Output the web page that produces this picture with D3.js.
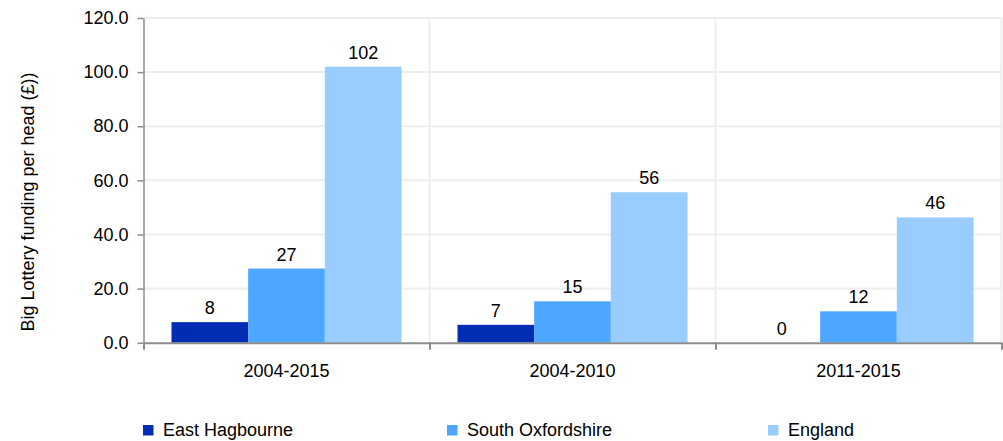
<!DOCTYPE html>
<html>
<head>
<meta charset="utf-8" />
<script src="https://d3js.org/d3.v7.min.js"></script>
<style>
  body { margin: 0; background: #fff; }
  text { font-family: "Liberation Sans", Arial, sans-serif; fill: #000; }
</style>
</head>
<body>
<div id="chart"></div>
<script>
// data
var categories = ["2004-2015", "2004-2010", "2011-2015"];
var seriesNames = ["East Hagbourne", "South Oxfordshire", "England"];
var eastHagbourne = [7.6, 6.6, 0];
var southOxfordshire = [27.4, 15.3, 11.6];
var england = [102.0, 55.6, 46.3];
var yTicks = [0, 20, 40, 60, 80, 100, 120];
var colors = ["#002db4", "#4da6ff", "#99ccff"];

var series = [eastHagbourne, southOxfordshire, england];

var width = 1003, height = 441;
var margin = {top: 18, right: 1.5, bottom: 98, left: 143.5};

var svg = d3.select("#chart").append("svg")
    .attr("width", width)
    .attr("height", height);

var y = d3.scaleLinear()
    .domain([0, 120])
    .range([height - margin.bottom - 0.3, margin.top]);

var x0 = d3.scaleBand()
    .domain(categories)
    .range([margin.left, width - margin.right])
    .padding(0);

var x1 = d3.scaleBand()
    .domain(seriesNames)
    .range([0, x0.bandwidth()])
    .paddingInner(0)
    .paddingOuter(0.365);

var xEdge = d3.scaleLinear()
    .domain([0, categories.length])
    .range([margin.left, width - margin.right]);

// horizontal grid
svg.append("g")
  .selectAll("line")
  .data(yTicks.filter(function(d) { return d > 0; }))
  .enter().append("line")
    .attr("x1", margin.left)
    .attr("x2", width - margin.right)
    .attr("y1", function(d) { return y(d); })
    .attr("y2", function(d) { return y(d); })
    .attr("stroke", "#eeeeee")
    .attr("stroke-width", 2);

// vertical grid at category edges
svg.append("g")
  .selectAll("line")
  .data(d3.range(1, categories.length + 1))
  .enter().append("line")
    .attr("x1", function(d) { return xEdge(d); })
    .attr("x2", function(d) { return xEdge(d); })
    .attr("y1", y(120))
    .attr("y2", y(0))
    .attr("stroke", "#eeeeee")
    .attr("stroke-width", 2);

// bars
var groups = svg.append("g")
  .selectAll("g")
  .data(categories)
  .enter().append("g")
    .attr("transform", function(d) { return "translate(" + x0(d) + ",0)"; });

groups.selectAll("rect")
  .data(function(c, i) {
    return seriesNames.map(function(s, k) { return {name: s, value: series[k][i], k: k}; });
  })
  .enter().append("rect")
    .attr("x", function(d) { return x1(d.name); })
    .attr("width", x1.bandwidth())
    .attr("y", function(d) { return y(d.value); })
    .attr("height", function(d) { return y(0) - y(d.value); })
    .attr("fill", function(d) { return colors[d.k]; });

groups.selectAll("text")
  .data(function(c, i) {
    return seriesNames.map(function(s, k) { return {name: s, value: series[k][i]}; });
  })
  .enter().append("text")
    .attr("x", function(d) { return x1(d.name) + x1.bandwidth() / 2; })
    .attr("y", function(d) { return y(d.value) - 8; })
    .attr("text-anchor", "middle")
    .style("font-size", "18px")
    .text(function(d) { return d3.format(".0f")(d.value); });

// y axis
var yAxis = svg.append("g")
    .attr("transform", "translate(" + margin.left + ",0)")
    .call(d3.axisLeft(y).tickValues(yTicks).tickFormat(d3.format(".1f")).tickSizeInner(6).tickSizeOuter(0).tickPadding(9));
yAxis.select(".domain").attr("stroke", "#8c8c8c").attr("stroke-width", 1.5);
yAxis.selectAll(".tick line").attr("stroke", "#8c8c8c").attr("stroke-width", 1.5);
yAxis.selectAll(".tick text").style("font-size", "18px").style("font-family", "'Liberation Sans', Arial, sans-serif").attr("fill", "#000");

// x axis (ticks at category edges)
var xAxis = svg.append("g")
    .attr("transform", "translate(0," + y(0) + ")")
    .call(d3.axisBottom(xEdge).ticks(categories.length).tickFormat("").tickSizeInner(7).tickSizeOuter(0));
xAxis.select(".domain").attr("stroke", "#8c8c8c").attr("stroke-width", 2);
xAxis.selectAll(".tick line").attr("stroke", "#8c8c8c").attr("stroke-width", 2);

svg.append("g")
  .selectAll("text")
  .data(categories)
  .enter().append("text")
    .attr("x", function(d) { return x0(d) + x0.bandwidth() / 2; })
    .attr("y", 377)
    .attr("text-anchor", "middle")
    .style("font-size", "18px")
    .text(function(d) { return d; });

// y title
svg.append("text")
    .attr("transform", "translate(34,202) rotate(-90)")
    .attr("text-anchor", "middle")
    .style("font-size", "18px")
    .text("Big Lottery funding per head (£))");

// legend
var legendX = [143, 447, 768];
var legend = svg.append("g")
  .selectAll("g")
  .data(seriesNames)
  .enter().append("g")
    .attr("transform", function(d, i) { return "translate(" + legendX[i] + ",425)"; });

legend.append("rect")
    .attr("width", 10.5)
    .attr("height", 10.5)
    .attr("fill", function(d, i) { return colors[i]; });

legend.append("text")
    .attr("x", 20)
    .attr("y", 11)
    .style("font-size", "18px")
    .text(function(d) { return d; });
</script>
</body>
</html>
